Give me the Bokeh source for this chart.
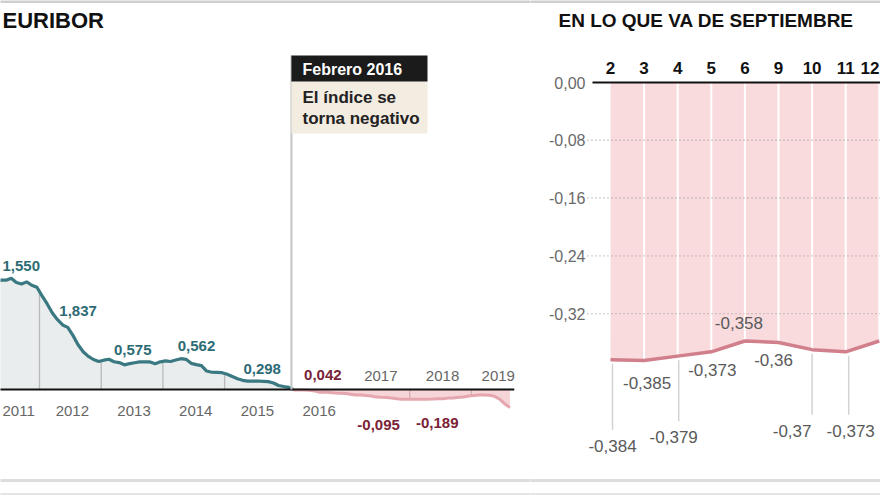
import numpy as np
from bokeh.plotting import figure
from bokeh.layouts import row
from bokeh.models import Range1d
from bokeh.core.properties import value
from bokeh.embed import file_html
from bokeh.resources import INLINE

# ---------------- data ----------------
start_year = 2011
euribor_monthly = [
    1.550, 1.714, 1.924, 2.086, 2.147, 2.144, 2.183, 2.097, 2.067, 2.110, 2.044, 2.004,    # 2011
    1.837, 1.678, 1.499, 1.368, 1.266, 1.219, 1.061, 0.877, 0.740, 0.650, 0.588, 0.549,    # 2012
    0.575, 0.594, 0.545, 0.528, 0.484, 0.507, 0.525, 0.542, 0.543, 0.541, 0.506, 0.543,    # 2013
    0.562, 0.549, 0.577, 0.604, 0.592, 0.513, 0.488, 0.469, 0.362, 0.338, 0.335, 0.329,    # 2014
    0.298, 0.255, 0.212, 0.180, 0.165, 0.163, 0.167, 0.161, 0.154, 0.128, 0.079, 0.059,    # 2015
    0.042, -0.008, -0.012, -0.010, -0.013, -0.028, -0.056, -0.048, -0.057, -0.069, -0.074, -0.080,  # 2016
    -0.095, -0.106, -0.110, -0.119, -0.127, -0.149, -0.154, -0.156, -0.168, -0.180, -0.189, -0.190,  # 2017
    -0.189, -0.191, -0.191, -0.190, -0.188, -0.181, -0.180, -0.169, -0.166, -0.154, -0.147, -0.129,  # 2018
    -0.116, -0.108, -0.109, -0.112, -0.134, -0.190, -0.283, -0.356,                                   # 2019
]
year_labels = [2011, 2012, 2013, 2014, 2015, 2016, 2017, 2018, 2019]
labelled_years = [2011, 2012, 2013, 2014, 2015, 2016, 2017, 2018]
separator_years = [2012, 2013, 2014, 2015, 2018, 2019]

sept_days = ["2", "3", "4", "5", "6", "9", "10", "11", "12"]
sept_values = [-0.384, -0.385, -0.379, -0.373, -0.358, -0.360, -0.370, -0.373, -0.358]
sept_ticks = [0.0, -0.08, -0.16, -0.24, -0.32]

FONT = value("Liberation Sans")
W_LEFT, W_RIGHT, H = 530, 350, 495

# ---------------- left panel ----------------
PX_PER_YEAR = 61.7
X2012 = 39
BASE_Y = 389
PX_PER_UNIT = 51


def lt(px):
    return 2012 + (px - X2012) / PX_PER_YEAR


def lv(py):
    return (BASE_Y - py) / PX_PER_UNIT


t = np.array([start_year + (k + 0.5) / 12 for k in range(len(euribor_monthly))])
v = np.array(euribor_monthly)
k0 = int(np.where((v[:-1] > 0) & (v[1:] <= 0))[0][0])
tz = t[k0] + (t[k0 + 1] - t[k0]) * v[k0] / (v[k0] - v[k0 + 1])
pos_t = list(t[:k0 + 1]) + [tz]
pos_v = list(v[:k0 + 1]) + [0.0]
neg_t = [tz] + list(t[k0 + 1:])
neg_v = [0.0] + list(v[k0 + 1:])

p1 = figure(width=W_LEFT, height=H, x_range=Range1d(lt(0), lt(W_LEFT)), y_range=Range1d(lv(H), lv(0)),
            output_backend="svg", toolbar_location=None, title=None, x_axis_type=None, y_axis_type=None,
            min_border=0, outline_line_color=None, background_fill_color="white", border_fill_color="white")

TEAL = "#3a7981"
TEAL_TXT = "#2d6b75"
PINK_LINE = "#e5a6ae"
MAROON = "#7a2236"

p1.varea(x=pos_t, y1=0, y2=pos_v, fill_color="#eaeded")
p1.varea(x=neg_t, y1=0, y2=neg_v, fill_color="#f6d5d9")

for yr in separator_years:
    val = float(np.interp(yr, t, v))
    p1.segment(x0=yr, y0=0, x1=yr, y1=val, line_color="#b9b9b9" if val > 0 else "#d6aeb3", line_width=1.3)

p1.line(pos_t, pos_v, line_color=TEAL, line_width=3.2)
p1.line(neg_t, neg_v, line_color=PINK_LINE, line_width=3)
p1.segment(x0=lt(-2), y0=0, x1=t[-1] + 0.07, y1=0, line_color="#111111", line_width=2)

# February 2016 annotation
feb_t = 2016 + 1 / 12
p1.segment(x0=feb_t, y0=0, x1=feb_t, y1=lv(55), line_color="#c4c4c4", line_width=2)
p1.quad(left=feb_t, right=lt(427), top=lv(81), bottom=lv(133), fill_color="#f3ece1", line_color=None)
p1.quad(left=feb_t, right=lt(427), top=lv(55), bottom=lv(81), fill_color="#1b1b1b", line_color=None)
p1.text(x=[lt(302)], y=[lv(69)], text=["Febrero 2016"], text_font=FONT, text_font_size="16px",
        text_font_style="bold", text_color="white", text_align="left", text_baseline="middle")
p1.text(x=[lt(302), lt(302)], y=[lv(97), lv(118)], text=["El índice se", "torna negativo"], text_font=FONT,
        text_font_size="17px", text_font_style="bold", text_color="#222222", text_align="left",
        text_baseline="middle")

# year labels (first one kept fully inside the panel)
yx, yy, ya = [], [], []
for yr in year_labels:
    if yr == year_labels[0]:
        yx.append(lt(2))
        ya.append("left")
    else:
        dx = -4 if yr == year_labels[-1] else 2
        yx.append(yr + 0.5 + dx / PX_PER_YEAR)
        ya.append("center")
    yy.append(lv(375) if yr >= 2017 else lv(410))
p1.text(x=yx, y=yy, text=[str(y) for y in year_labels], text_align=ya, text_font=FONT,
        text_font_size="15px", text_color="#666666", text_baseline="middle")

# January value labels (pixel offsets from the January point)
offsets = {2012: (36, 15), 2013: (29, -10), 2014: (31, -15), 2015: (35, -5),
           2016: (34, -12), 2017: (28, 31), 2018: (25, 24)}
lx, ly, ltxt, lcol, lal = [], [], [], [], []
for yr in labelled_years:
    k = (yr - start_year) * 12
    if yr in offsets:
        dx, dy = offsets[yr]
        lx.append(t[k] + dx / PX_PER_YEAR)
        ly.append(v[k] - dy / PX_PER_UNIT)
        lal.append("center")
    else:  # point lies left of the visible window: pin label to the edge
        lx.append(lt(2))
        ly.append(lv(265))
        lal.append("left")
    ltxt.append(f"{v[k]:.3f}".replace(".", ","))
    lcol.append(TEAL_TXT if yr < 2016 else MAROON)
p1.text(x=lx, y=ly, text=ltxt, text_color=lcol, text_align=lal, text_font=FONT, text_font_size="15px",
        text_font_style="bold", text_baseline="middle")

p1.text(x=[lt(2)], y=[lv(20)], text=["EURIBOR"], text_font=FONT, text_font_size="22px",
        text_font_style="bold", text_color="#111111", text_align="left", text_baseline="middle")
p1.segment(x0=lt(-5), y0=[lv(480), lv(494), lv(1)], x1=lt(540), y1=[lv(480), lv(494), lv(1)],
           line_color=["#dddddd", "#e4e4e4", "#cfcfcf"], line_width=3)

# ---------------- right panel ----------------
X0 = 610
PX_PER_DAY = 33.6
ZERO_Y = 82
PX_PER_U2 = 722
X_START = 530


def ri(px):
    return (px - X0) / PX_PER_DAY


def rv(py):
    return (ZERO_Y - py) / PX_PER_U2


p2 = figure(width=W_RIGHT, height=H, x_range=Range1d(ri(X_START), ri(X_START + W_RIGHT)),
            y_range=Range1d(rv(H), rv(0)),
            output_backend="svg", toolbar_location=None, title=None, x_axis_type=None, y_axis_type=None,
            min_border=0, outline_line_color=None, background_fill_color="white", border_fill_color="white")

xi = list(range(len(sept_days)))
sv = np.array(sept_values)
p2.varea(x=xi, y1=0, y2=sept_values, fill_color="#f9dadd")
p2.segment(x0=xi[1:], y0=[0] * (len(xi) - 1), x1=xi[1:], y1=sept_values[1:], line_color="white", line_width=2)

grid = [g for g in sept_ticks if g != 0]
p2.segment(x0=[ri(587)] * len(grid), y0=grid, x1=[ri(900)] * len(grid), y1=grid, line_color="#a9a9a9",
           line_width=1.3, line_dash="1 3")
p2.segment(x0=ri(592), y0=0, x1=ri(900), y1=0, line_color="#111111", line_width=2)

p2.text(x=[ri(585)] * len(sept_ticks), y=sept_ticks,
        text=[f"{g:.2f}".replace(".", ",") for g in sept_ticks], text_font=FONT, text_font_size="16px",
        text_color="#6a6a6a", text_align="right", text_baseline="middle")
# day labels; the last one is kept inside the panel
dx_lab = [float(i) for i in xi]
dal = ["center"] * len(xi)
dx_lab[-1] = ri(879)
dal[-1] = "right"
p2.text(x=dx_lab, y=[rv(67)] * len(xi), text=sept_days, text_align=dal, text_font=FONT,
        text_font_size="17px", text_font_style="bold", text_color="#111111", text_baseline="middle")

p2.line(xi, sept_values, line_color="#d07f8b", line_width=3.5)

# value labels (pixel offsets from points) and leader lines
loff = [(2, 86), (3, 23), (-4, 81), (1, 18), (-6, -18), (-5, 18), (-20, 81), (5, 79)]
leader = [True, False, True, False, False, False, True, True]
lead_dx = [2, 0, 1, 0, 0, 0, 0, 3]
rx, ry, rt = [], [], []
for i, (dx, dy) in enumerate(loff):
    rx.append(xi[i] + dx / PX_PER_DAY)
    ry.append(sv[i] - dy / PX_PER_U2)
    rt.append(f"{sv[i]:.3f}".rstrip("0").replace(".", ","))
    if leader[i]:
        xl = xi[i] + lead_dx[i] / PX_PER_DAY
        p2.segment(x0=xl, y0=sv[i] - 4 / PX_PER_U2, x1=xl, y1=sv[i] - (dy - 16) / PX_PER_U2,
                   line_color="#d2d2d2", line_width=1.5)
p2.text(x=rx, y=ry, text=rt, text_font=FONT, text_font_size="17px", text_color="#5a5a5a",
        text_align="center", text_baseline="middle")

p2.text(x=[ri(558)], y=[rv(20)], text=["EN LO QUE VA DE SEPTIEMBRE"], text_font=FONT,
        text_font_size="19px", text_font_style="bold", text_color="#111111", text_align="left",
        text_baseline="middle")
p2.segment(x0=ri(520), y0=[rv(480), rv(494), rv(1)], x1=ri(900), y1=[rv(480), rv(494), rv(1)],
           line_color=["#dddddd", "#e4e4e4", "#cfcfcf"], line_width=3)

layout = row(p1, p2)
open("out.html", "w").write(file_html(layout, INLINE))
